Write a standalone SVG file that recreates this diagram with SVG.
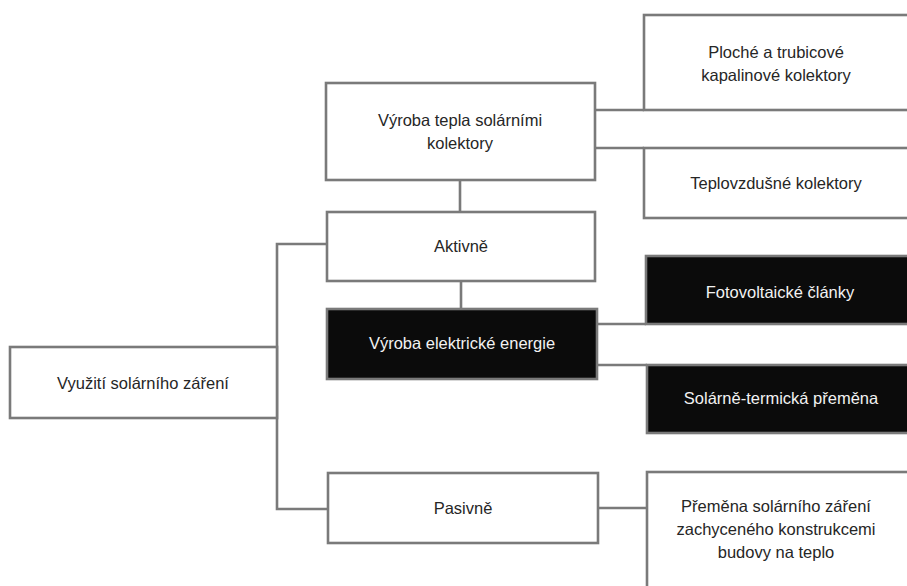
<svg xmlns="http://www.w3.org/2000/svg" width="907" height="586" viewBox="0 0 907 586">
<style>
.box{fill:#ffffff;stroke:#7a7a7a;stroke-width:2.6}
.dark{fill:#0b0b0b;stroke:#7a7a7a;stroke-width:2.6}
.conn{fill:none;stroke:#7a7a7a;stroke-width:2.6}
text{font-family:"Liberation Sans",Arial,sans-serif;font-size:16.5px;text-anchor:middle}
.t{fill:#262626}
.w{fill:#f2f2f2}
</style>
<rect width="907" height="586" fill="#ffffff"/>
<g id="connectors">
<path class="conn" d="M327,244 H277 V509 H328"/>
<path class="conn" d="M460,180 V212"/>
<path class="conn" d="M461,281 V309"/>
<path class="conn" d="M595,110 H644"/>
<path class="conn" d="M595,148 H644"/>
<path class="conn" d="M597,324 H646"/>
<path class="conn" d="M597,365 H647"/>
<path class="conn" d="M598,508 H647"/>
</g>
<g id="n-vyuziti">
<rect class="box" x="10" y="347" width="267" height="71"/>
<text class="t" x="143" y="389">Využití solárního záření</text>
</g>
<g id="n-teplo">
<rect class="box" x="326" y="83" width="269" height="97"/>
<text class="t" x="460" y="126">Výroba tepla solárními</text>
<text class="t" x="460" y="149">kolektory</text>
</g>
<g id="n-aktivne">
<rect class="box" x="327" y="212" width="268" height="69"/>
<text class="t" x="461" y="252">Aktivně</text>
</g>
<g id="n-elektricka">
<rect class="dark" x="327" y="309" width="270" height="70"/>
<text class="w" x="462" y="349">Výroba elektrické energie</text>
</g>
<g id="n-pasivne">
<rect class="box" x="328" y="473" width="270" height="70"/>
<text class="t" x="463" y="514">Pasivně</text>
</g>
<g id="n-ploche">
<rect class="box" x="644" y="15" width="270" height="95"/>
<text class="t" x="776" y="58">Ploché a trubicové</text>
<text class="t" x="776" y="81">kapalinové kolektory</text>
</g>
<g id="n-teplovzdusne">
<rect class="box" x="644" y="148" width="270" height="70"/>
<text class="t" x="776" y="189">Teplovzdušné kolektory</text>
</g>
<g id="n-fotovoltaicke">
<rect class="dark" x="646" y="256" width="268" height="68"/>
<text class="w" x="780" y="298">Fotovoltaické články</text>
</g>
<g id="n-solarne">
<rect class="dark" x="647" y="365" width="267" height="68"/>
<text class="w" x="781" y="404">Solárně-termická přeměna</text>
</g>
<g id="n-premena">
<rect class="box" x="647" y="472" width="267" height="130"/>
<text class="t" x="776" y="512">Přeměna solárního záření</text>
<text class="t" x="776" y="535">zachyceného konstrukcemi</text>
<text class="t" x="776" y="558">budovy na teplo</text>
</g>
</svg>
